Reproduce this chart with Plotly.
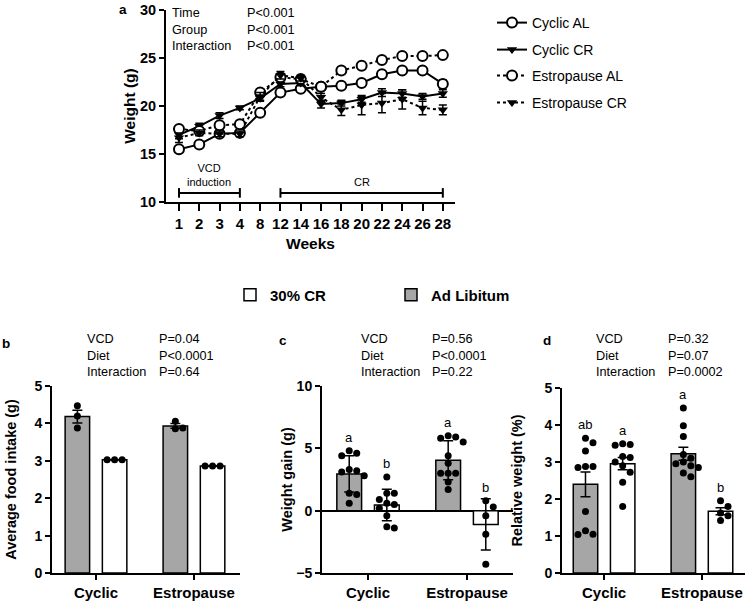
import numpy as np
import plotly.graph_objects as go

W, H = 746, 602
FONT = "Liberation Sans"

# ---------------- data: panel a ----------------
weeks = ["1", "2", "3", "4", "8", "12", "14", "16", "18", "20", "22", "24", "26", "28"]
cyc_al = [15.5, 16.0, 17.1, 17.2, 19.3, 21.4, 21.8, 22.0, 22.1, 22.4, 23.3, 23.7, 23.7, 22.3]
cyc_al_err = [0.3, 0.2, 0.2, 0.2, 0.2, 0.3, 0.2, 0.2, 0.2, 0.2, 0.2, 0.2, 0.2, 0.4]
cyc_cr = [17.0, 17.9, 19.0, 19.8, 20.8, 22.3, 22.4, 20.2, 20.3, 20.7, 21.4, 21.3, 21.0, 21.3]
cyc_cr_err = [0.4, 0.3, 0.3, 0.2, 0.3, 0.3, 0.3, 0.4, 0.3, 0.3, 0.4, 0.4, 0.3, 0.4]
est_al = [17.6, 17.4, 18.0, 18.1, 21.4, 23.0, 22.8, 22.0, 23.7, 24.2, 24.8, 25.2, 25.2, 25.3]
est_al_err = [0.3, 0.3, 0.2, 0.2, 0.3, 0.3, 0.3, 0.2, 0.2, 0.2, 0.2, 0.2, 0.2, 0.3]
est_cr = [16.7, 17.2, 17.1, 17.1, 21.0, 23.2, 22.9, 20.9, 19.6, 20.1, 20.3, 20.7, 19.8, 19.6]
est_cr_err = [0.5, 0.3, 0.3, 0.3, 0.4, 0.4, 0.3, 0.4, 0.6, 1.0, 1.0, 1.0, 0.7, 0.5]
phase_vcd = ("1", "4")
phase_cr = ("12", "28")

# ---------------- data: panels b, c, d ----------------
groups = ["Cyclic", "Estropause"]
# panel b: average food intake (g), mean ± SEM
b_al = [[4.47, 4.20, 3.88], [4.06, 3.86, 3.88]]
b_cr = [[3.03, 3.03, 3.03], [2.86, 2.86, 2.86]]
# panel c: weight gain (g), mean ± SD
c_al = [[4.8, 4.6, 4.4, 3.3, 3.2, 3.1, 2.8, 1.4, 1.3, 0.6],
        [6.0, 5.9, 5.8, 5.5, 4.4, 3.8, 3.0, 3.0, 3.0, 2.3, 1.7]]
c_cr = [[2.7, 1.4, 1.4, 0.9, 0.6, 0.5, 0.2, -0.4, -1.4, -1.3],
        [0.8, 0.3, -0.4, -1.9, -4.3]]
c_al_letters = ["a", "a"]
c_cr_letters = ["b", "b"]
# panel d: relative weight (%), mean ± SEM
d_al = [[3.64, 3.52, 3.30, 2.88, 2.85, 2.88, 1.66, 1.14, 1.04, 1.05],
        [4.46, 3.98, 3.69, 3.20, 3.10, 3.00, 2.95, 2.90, 2.85, 2.70, 2.60]]
d_cr = [[3.49, 3.45, 3.47, 3.12, 3.15, 3.00, 2.90, 2.72, 2.45, 1.80],
        [1.95, 1.80, 1.62, 1.55, 1.42]]
d_al_letters = ["ab", "a"]
d_cr_letters = ["a", "b"]

stats_a = [("Time", "P<0.001"), ("Group", "P<0.001"), ("Interaction", "P<0.001")]
stats_b = [("VCD", "P=0.04"), ("Diet", "P<0.0001"), ("Interaction", "P=0.64")]
stats_c = [("VCD", "P=0.56"), ("Diet", "P<0.0001"), ("Interaction", "P=0.22")]
stats_d = [("VCD", "P=0.32"), ("Diet", "P=0.07"), ("Interaction", "P=0.0002")]

GRAY = "#a6a6a6"

# ---------------- helpers ----------------
def px_x(p):
    return p / W

def px_y(p):
    return 1 - p / H

def sem(v):
    v = np.asarray(v, float)
    return float(np.std(v, ddof=1) / np.sqrt(len(v)))

def sd(v):
    return float(np.std(np.asarray(v, float), ddof=1))

def swarm(vals, ppu_y, ppu_x, d=7.5):
    """Deterministic beeswarm: returns x offsets (data units)."""
    order = sorted(range(len(vals)), key=lambda i: -vals[i])
    placed = []
    offs = [0.0] * len(vals)
    cands = [0, 1, -1, 2, -2, 3, -3]
    for i in order:
        yp = vals[i] * ppu_y
        for k in cands:
            xp = k * d
            if all((xp - a) ** 2 + (yp - b) ** 2 >= (d * 0.95) ** 2 for a, b in placed):
                break
        placed.append((xp, yp))
        offs[i] = xp / ppu_x
    return offs

fig = go.Figure()

axis_common = dict(showline=True, linecolor="black", linewidth=2, ticks="outside",
                   ticklen=5, tickwidth=2, tickcolor="black", showgrid=False,
                   zeroline=False, mirror=False, automargin=False)
tick_font = dict(family=FONT, size=14, color="black", weight="bold")
title_font = dict(family=FONT, size=14.5, color="black", weight="bold")

# ---------------- panel a ----------------
xi = list(range(len(weeks)))
series = [
    ("Cyclic AL", cyc_al, cyc_al_err, "solid", "circle-open"),
    ("Cyclic CR", cyc_cr, cyc_cr_err, "solid", "triangle-down"),
    ("Estropause AL", est_al, est_al_err, "dot", "circle-open"),
    ("Estropause CR", est_cr, est_cr_err, "dot", "triangle-down"),
]
line_legends = ["legend", "legend3", "legend4", "legend5"]
legend_rows_px = [23, 50, 76, 103]
for k, (name, ys, es, dash, sym) in enumerate(series):
    is_open = sym == "circle-open"
    fig.add_trace(go.Scatter(
        x=xi, y=ys, name=name, mode="lines+markers",
        line=dict(color="black", width=2, dash=dash),
        marker=dict(symbol="circle" if is_open else "triangle-down",
                    size=10 if is_open else 9,
                    color="white" if is_open else "black",
                    line=dict(color="black", width=2 if is_open else 0)),
        error_y=dict(type="data", array=es, visible=True, color="black",
                     thickness=1.5, width=4),
        xaxis="x", yaxis="y", legend=line_legends[k],
    ))

# phase brackets
def bracket(a, b, yv, cap):
    i0, i1 = weeks.index(a), weeks.index(b)
    fig.add_shape(type="line", xref="x", yref="y", x0=i0, x1=i1, y0=yv, y1=yv,
                  line=dict(color="black", width=2))
    for i in (i0, i1):
        fig.add_shape(type="line", xref="x", yref="y", x0=i, x1=i, y0=yv - cap, y1=yv + cap,
                      line=dict(color="black", width=2))
    return (i0 + i1) / 2

mid_vcd = bracket(*phase_vcd, 10.95, 0.5)
mid_cr = bracket(*phase_cr, 10.95, 0.5)
fig.add_annotation(x=mid_vcd, y=11.2, xref="x", yref="y", text="VCD<br>induction",
                   showarrow=False, yanchor="bottom", font=dict(family=FONT, size=11, color="black"))
fig.add_annotation(x=mid_cr, y=11.2, xref="x", yref="y", text="CR",
                   showarrow=False, yanchor="bottom", font=dict(family=FONT, size=11, color="black"))

# ---------------- bar panels ----------------
OFF = 0.19
BW = 0.25
panels = [
    ("x2", "y2", b_al, b_cr, sem, (0, 5), (52, 240), (386, 573), None, None),
    ("x3", "y3", c_al, c_cr, sd, (-5, 10), (322, 513), (386, 573), c_al_letters, c_cr_letters),
    ("x4", "y4", d_al, d_cr, sem, (0, 5), (562, 745), (388, 573), d_al_letters, d_cr_letters),
]
xranges = {"x2": (-0.449, 1.47), "x3": (-0.465, 1.465), "x4": (-0.43, 1.44)}
standoffs = {"y2": 14, "y3": 0, "y4": 18}

for pi, (xa, ya, al, cr, errfn, yr, xd, yd, la, lc) in enumerate(panels):
    ppu_y = (yd[1] - yd[0]) / (yr[1] - yr[0])
    xr = xranges[xa]
    ppu_x = (xd[1] - xd[0]) / (xr[1] - xr[0])
    for diet, data, color, off, letters, rank, lname in (
            ("AL", al, GRAY, -OFF, la, 2, "Ad Libitum"),
            ("CR", cr, "white", OFF, lc, 1, "30% CR")):
        pos = [g + off for g in range(len(groups))]
        means = [float(np.mean(v)) for v in data]
        errs = [errfn(v) for v in data]
        fig.add_trace(go.Bar(
            x=pos, y=means, width=BW, name=lname,
            marker=dict(color=color, line=dict(color="black", width=1.5)),
            error_y=dict(type="data", array=errs, visible=True, color="black",
                         thickness=1.5, width=5),
            xaxis=xa, yaxis=ya, showlegend=(pi == 0), legend="legend2",
            legendrank=rank,
        ))
        px_, py_ = [], []
        for g, vals in enumerate(data):
            offs = swarm(vals, ppu_y, ppu_x)
            px_ += [pos[g] + o for o in offs]
            py_ += list(vals)
        fig.add_trace(go.Scatter(
            x=px_, y=py_, mode="markers", showlegend=False,
            marker=dict(color="black", size=7),
            xaxis=xa, yaxis=ya,
        ))
        if letters:
            for g, vals in enumerate(data):
                fig.add_annotation(x=pos[g], y=max(vals), xref=xa, yref=ya, text=letters[g],
                                   showarrow=False, yanchor="bottom", yshift=4,
                                   font=dict(family=FONT, size=13, color="black"))

# ---------------- layout ----------------
layout = dict(
    width=W, height=H, margin=dict(l=0, r=0, t=0, b=0),
    plot_bgcolor="white", paper_bgcolor="white",
    font=dict(family=FONT, color="black"),
    barmode="overlay",
    xaxis=dict(axis_common, domain=[px_x(166), px_x(455)], anchor="y",
               range=[-0.64, 13.6], tickmode="array", tickvals=xi, ticktext=weeks,
               ticklen=7, tickfont=dict(tick_font, size=15),
               title=dict(text="Weeks", font=dict(title_font, size=15.5), standoff=7)),
    yaxis=dict(axis_common, domain=[px_y(202), px_y(10)], anchor="x",
               range=[10, 30], dtick=5, tickfont=dict(tick_font, size=14.5),
               title=dict(text="Weight (g)", font=dict(title_font, size=15.5), standoff=1)),
    legend2=dict(x=px_x(230), y=px_y(295), xanchor="left", yanchor="middle",
                 orientation="h", entrywidth=116, entrywidthmode="pixels",
                 font=dict(family=FONT, size=15, color="black", weight="bold"),
                 bgcolor="rgba(0,0,0,0)"),
)
for lg, row in zip(line_legends, legend_rows_px):
    layout[lg] = dict(x=px_x(492), y=px_y(row), xanchor="left", yanchor="middle",
                      font=dict(family=FONT, size=14, color="black"),
                      bgcolor="rgba(0,0,0,0)", itemwidth=30)
ytitles = {"y2": "Average food intake (g)", "y3": "Weight gain (g)", "y4": "Relative weight (%)"}
for (xa, ya, al, cr, errfn, yr, xd, yd, la, lc) in panels:
    xk = "xaxis" + xa[1:]
    yk = "yaxis" + ya[1:]
    layout[xk] = dict(axis_common, domain=[px_x(xd[0]), px_x(xd[1])], anchor=ya,
                      range=list(xranges[xa]), tickmode="array", tickvals=list(range(len(groups))),
                      ticktext=groups, tickfont=dict(tick_font, size=15))
    ydict = dict(axis_common, domain=[px_y(yd[1]), px_y(yd[0])], anchor=xa,
                 range=list(yr), dtick=(5 if ya == "y3" else 1), tickfont=tick_font,
                 title=dict(text=ytitles[ya], font=title_font, standoff=standoffs[ya]))
    if ya == "y3":
        ydict.update(zeroline=True, zerolinecolor="black", zerolinewidth=1.5)
    layout[yk] = ydict
fig.update_layout(**layout)

# panel labels
for lab, x, y, anchor in (("a", 123, 0, "top"), ("b", 6, 343, "middle"),
                          ("c", 283, 340, "middle"), ("d", 547, 340, "middle")):
    fig.add_annotation(x=px_x(x), y=px_y(y), xref="paper", yref="paper", text=lab,
                       showarrow=False, xanchor="center", yanchor=anchor,
                       font=dict(family=FONT, size=13.5, color="black", weight="bold"))

# stats blocks
def stats(rows, xl, xr, ytop):
    for col, xx in ((0, xl), (1, xr)):
        fig.add_annotation(x=px_x(xx), y=px_y(ytop), xref="paper", yref="paper",
                           text="<br>".join(r[col] for r in rows), showarrow=False, align="left",
                           xanchor="left", yanchor="top",
                           font=dict(family=FONT, size=12.7, color="black"))

stats(stats_a, 170, 245, 4)
stats(stats_b, 85, 157, 330)
stats(stats_c, 359, 430, 330)
stats(stats_d, 594, 666, 330)

fig.write_html("out.html", config={"displayModeBar": False},
               post_script="document.body.style.margin='0px';document.body.style.overflow='hidden';")
